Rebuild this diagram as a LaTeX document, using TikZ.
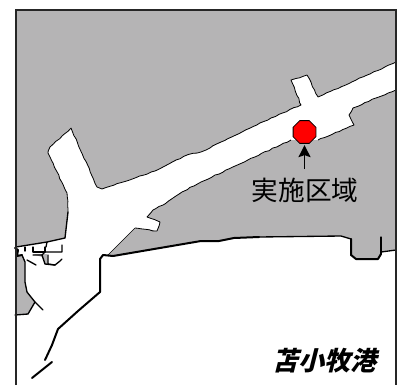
\documentclass[tikz,border=0pt]{standalone}
\usepackage{fontspec}
\usetikzlibrary{shapes.geometric,arrows.meta,decorations.pathmorphing}
\setmainfont{Noto Sans CJK JP}
\newfontfamily\cjk{Noto Sans CJK JP}
\definecolor{land}{RGB}{181,180,181}
\definecolor{marker}{RGB}{255,0,0}
\pgfmathsetseed{7}
\tikzset{
 shoreline/.style={draw=black,line width=0.6pt,line join=round,decorate,decoration={random steps,segment length=3pt,amplitude=0.35pt}},
 coast/.style={draw=black,line width=1pt,line join=round,line cap=round},
 heavy coast/.style={draw=black,line width=1.5pt,line join=round,line cap=round},
 framing/.style={draw=black!85,line width=1pt},
 px/.style={x=0.75pt,y=-0.75pt}
}
\begin{document}
\begin{tikzpicture}[px]
\useasboundingbox (0,0) rectangle (402,385);
\fill[white] (0,0) rectangle (402,385);
% upper land
\fill[land] (16,10) -- (396,10) -- (396,62) -- (318,97) -- (307,75) -- (291,80) -- (301,105) -- (271,118) -- (201,152) -- (187,155) -- (155,171) -- (102,189) -- (97,187) -- (71,128) -- (50,147) -- (48,153) -- (67,193) -- (68,212) -- (65,238) -- (47,242) -- (16,247) -- cycle;
\draw[shoreline] (396,62) -- (318,97) -- (307,75) -- (291,80) -- (301,105) -- (271,118) -- (201,152) -- (187,155) -- (155,171) -- (102,189) -- (97,187) -- (71,128) -- (50,147) -- (48,153) -- (67,193) -- (68,212);
\draw[coast] (68,212) -- (65,238) -- (47,242) -- (46,247) (47,242) -- (16,247);
% right land
\fill[land] (396,90) -- (376,98) -- (353,108) -- (349,115) -- (354,125) -- (318,140) -- (291,140) -- (201,182) -- (182,192) -- (163,205) -- (153,210) -- (147,217) -- (160,222) -- (157,231) -- (135,228) -- (108,255) -- (113,256) -- (201,241) -- (219,241) -- (234,238) -- (259,237) -- (341,236) -- (351,239) -- (351,255) -- (356,259) -- (378,259) -- (381,254) -- (383,251) -- (396,250) -- cycle;
\draw[shoreline] (396,90) -- (376,98) -- (353,108) -- (349,115) -- (354,125) -- (318,140) (291,140) -- (201,182) -- (182,192) -- (163,205) -- (153,210) -- (147,217) -- (160,222) -- (157,231) -- (135,228);
\draw[draw=black,line width=0.5pt] (135,228) -- (108,255);
\draw[heavy coast] (103,255) -- (113,256) -- (201,241) -- (219,241) -- (234,238) -- (259,237);
\draw[coast] (259,237) -- (341,236) -- (351,239);
\draw[heavy coast] (351,239) -- (351,255) -- (356,259) -- (378,259) -- (381,254);
\draw[coast] (381,254) -- (381,237);
\draw[coast] (381,252) -- (396,250);
% lower-left land
\fill[land] (16,257) -- (22,255) -- (25,262) -- (25,282) -- (27,292) -- (35,302) -- (28,314) -- (16,315) -- cycle;
\draw[coast] (22,255) -- (25,262) -- (25,282) -- (27,292) -- (35,302) -- (28,314) -- (15,315);
\draw[coast] (35,302) -- (43,310);
% harbour
\fill[land] (33,254) -- (47,254) -- (48,264) -- (45,264) -- (42,257) -- cycle;
\draw[heavy coast] (15,248) -- (18,250) -- (17,256) -- (22,255);
\draw[coast] (25,247) -- (25,251);
\draw[coast] (33,247) -- (33,252) -- (45,252) -- (45,247);
\draw[coast] (33,255) -- (42,255) -- (45,252) -- (62,252) -- (62,245);
\draw[coast] (42,255) -- (45,264) -- (55,265);
\draw[coast] (48,255) -- (48,264) -- (55,265) -- (60,261) -- (62,259);
\draw[coast] (27,260) -- (36,265);
% coast line
\draw[heavy coast] (103,255) -- (100,259) -- (100,292) -- (78,311) -- (58,329) -- (52,345) -- (45,360);
\draw[heavy coast] (52,362) -- (32,378);
% frame
\draw[framing] (16,385) -- (16,10) -- (396,10) -- (396,385);
% marker and labels
\node[regular polygon,regular polygon sides=8,fill=marker,draw=black,line width=0.6pt,minimum size=18.5pt,inner sep=0pt] (site) at (304.5,132) {};
\node[font=\cjk\fontsize{20}{22}\selectfont,inner sep=0pt] (area) at (305,190) {実施区域};
\coordinate (tail) at (304.5,169);
\draw[-{Stealth[length=9pt,width=9pt,inset=1.5pt]},line width=1.4pt,shorten >=1pt] (tail) -- (site.south);
\node[font=\cjk\bfseries\fontsize{19.5}{21}\selectfont,inner sep=0pt,xslant=0.25] (port) at (327,361) {苫小牧港};
\end{tikzpicture}
\end{document}
